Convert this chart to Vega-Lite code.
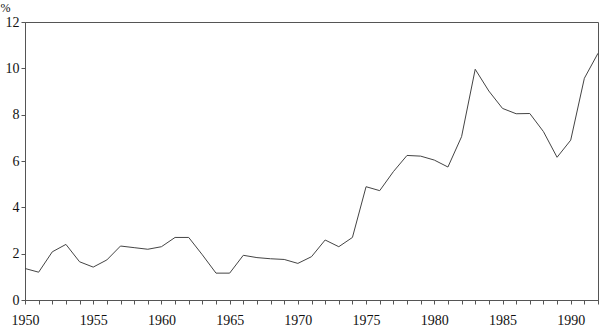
{
  "$schema": "https://vega.github.io/schema/vega-lite/v6.json",
  "width": 573,
  "height": 278,
  "autosize": {"type": "none"},
  "padding": {"left": 25, "top": 22, "right": 2, "bottom": 27},
  "background": "white",
  "config": {
    "view": {"stroke": "#555", "strokeWidth": 1},
    "axis": {"labelFont": "Liberation Serif", "titleFont": "Liberation Serif"}
  },
  "data": {
    "values": [
      {"year": 1950, "value": 1.36},
      {"year": 1951, "value": 1.2},
      {"year": 1952, "value": 2.08},
      {"year": 1953, "value": 2.4},
      {"year": 1954, "value": 1.65},
      {"year": 1955, "value": 1.42},
      {"year": 1956, "value": 1.73},
      {"year": 1957, "value": 2.33},
      {"year": 1958, "value": 2.26},
      {"year": 1959, "value": 2.19},
      {"year": 1960, "value": 2.3},
      {"year": 1961, "value": 2.7},
      {"year": 1962, "value": 2.7},
      {"year": 1963, "value": 1.95},
      {"year": 1964, "value": 1.16},
      {"year": 1965, "value": 1.16},
      {"year": 1966, "value": 1.93},
      {"year": 1967, "value": 1.83},
      {"year": 1968, "value": 1.78},
      {"year": 1969, "value": 1.75},
      {"year": 1970, "value": 1.58},
      {"year": 1971, "value": 1.87},
      {"year": 1972, "value": 2.59},
      {"year": 1973, "value": 2.3},
      {"year": 1974, "value": 2.7},
      {"year": 1975, "value": 4.89},
      {"year": 1976, "value": 4.72},
      {"year": 1977, "value": 5.54},
      {"year": 1978, "value": 6.24},
      {"year": 1979, "value": 6.21},
      {"year": 1980, "value": 6.04},
      {"year": 1981, "value": 5.74},
      {"year": 1982, "value": 7.05},
      {"year": 1983, "value": 9.96},
      {"year": 1984, "value": 9.02},
      {"year": 1985, "value": 8.27},
      {"year": 1986, "value": 8.04},
      {"year": 1987, "value": 8.05},
      {"year": 1988, "value": 7.27},
      {"year": 1989, "value": 6.16},
      {"year": 1990, "value": 6.9},
      {"year": 1991, "value": 9.57},
      {"year": 1992, "value": 10.65}
    ]
  },
  "mark": {"type": "line", "color": "#444", "strokeWidth": 1},
  "encoding": {
    "x": {
      "field": "year",
      "type": "quantitative",
      "scale": {"domain": [1950, 1992], "nice": false, "zero": false},
      "axis": {
        "title": null,
        "grid": false,
        "values": [1950,1951,1952,1953,1954,1955,1956,1957,1958,1959,1960,1961,1962,1963,1964,1965,1966,1967,1968,1969,1970,1971,1972,1973,1974,1975,1976,1977,1978,1979,1980,1981,1982,1983,1984,1985,1986,1987,1988,1989,1990,1991,1992],
        "labelExpr": "datum.value % 5 === 0 ? datum.value : ''",
        "labelOverlap": false,
        "labelFlush": false,
        "labelFont": "Liberation Serif",
        "labelFontSize": 14,
        "labelColor": "#111",
        "tickSize": 4,
        "tickColor": "#555",
        "domainColor": "#555",
        "labelPadding": 9
      }
    },
    "y": {
      "field": "value",
      "type": "quantitative",
      "scale": {"domain": [0, 12], "nice": false},
      "axis": {
        "title": "%",
        "titleAngle": 0,
        "titleX": -25,
        "titleY": -15,
        "titleAlign": "left",
        "titleBaseline": "middle",
        "titleFont": "Liberation Serif",
        "titleFontSize": 12,
        "titleFontWeight": "normal",
        "titleColor": "#111",
        "grid": false,
        "values": [0, 2, 4, 6, 8, 10, 12],
        "labelFont": "Liberation Serif",
        "labelFontSize": 14,
        "labelColor": "#111",
        "tickSize": 4,
        "tickColor": "#555",
        "domainColor": "#555",
        "labelPadding": 2
      }
    }
  }
}
